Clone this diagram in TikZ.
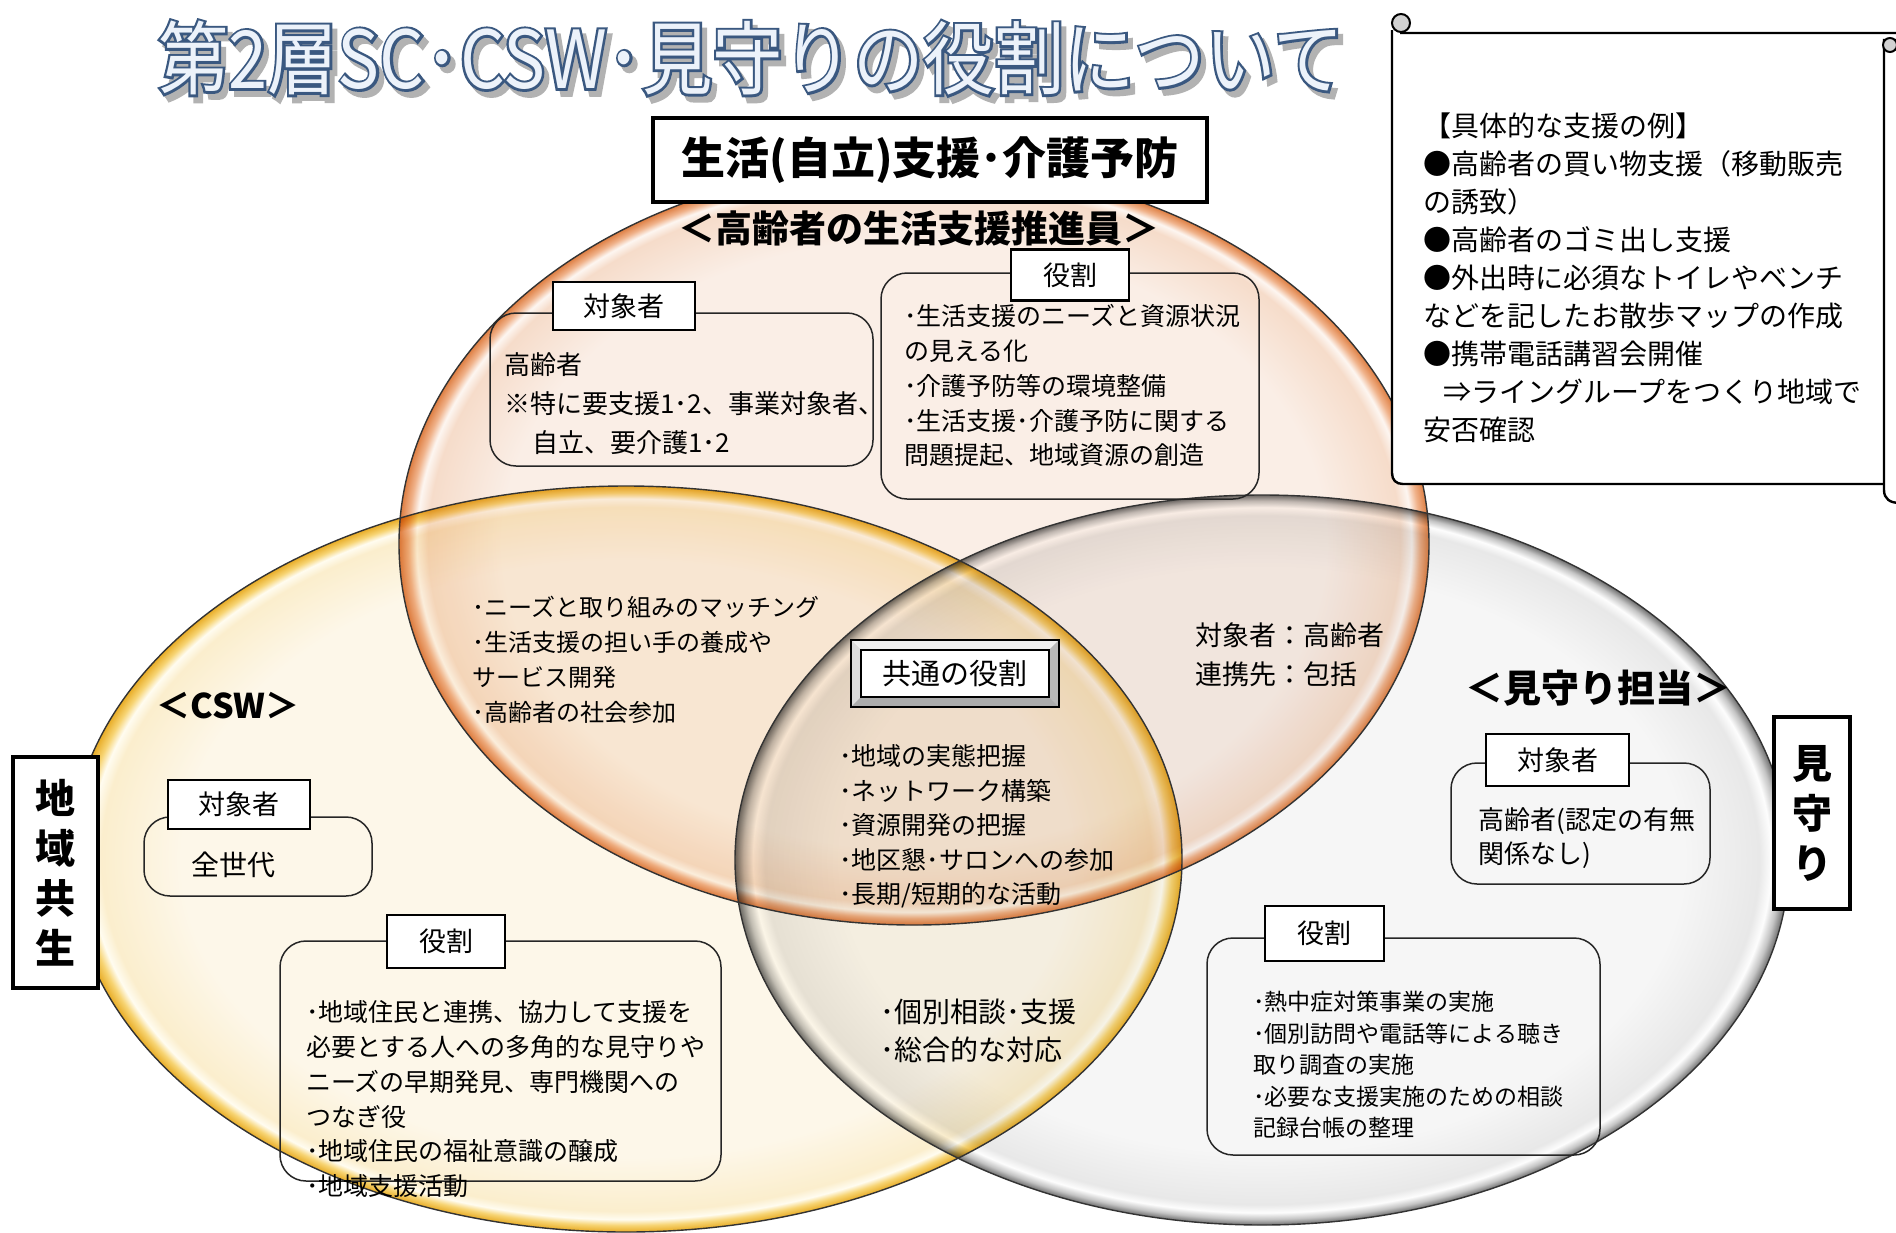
\documentclass[tikz,border=0pt]{standalone}
\usepackage{fontspec}
\newfontfamily\jp{Noto Sans CJK JP}
\newfontfamily\jpc{Noto Sans CJK JP}[FakeStretch=0.88]
\newfontfamily\jpo{Noto Sans CJK JP}[FakeStretch=0.88,FakeBold=6]
\definecolor{yin}{RGB}{253,247,233}
\definecolor{ylt}{RGB}{251,238,205}
\definecolor{yhi}{RGB}{255,252,240}
\definecolor{ymid}{RGB}{247,212,115}
\definecolor{yedge}{RGB}{232,172,38}
\definecolor{oin}{RGB}{250,238,230}
\definecolor{olt}{RGB}{246,220,202}
\definecolor{ohi}{RGB}{253,246,241}
\definecolor{omid}{RGB}{240,178,138}
\definecolor{oedge}{RGB}{222,126,66}
\definecolor{gin}{RGB}{246,246,246}
\definecolor{glt}{RGB}{232,232,232}
\definecolor{ghi}{RGB}{253,253,253}
\definecolor{gmid}{RGB}{196,196,196}
\definecolor{gedge}{RGB}{110,110,110}
\definecolor{tnavy}{RGB}{58,88,128}
\definecolor{tfill}{RGB}{236,242,250}
\pgfdeclareradialshading{rimY}{\pgfpoint{0bp}{0bp}}{color(0bp)=(yin); color(20bp)=(yin); color(23.6bp)=(ylt); color(24.15bp)=(yhi); color(24.55bp)=(ymid); color(25bp)=(yedge); color(50bp)=(yedge)}
\pgfdeclareradialshading{rimO}{\pgfpoint{0bp}{0bp}}{color(0bp)=(oin); color(20bp)=(oin); color(23.6bp)=(olt); color(24.15bp)=(ohi); color(24.55bp)=(omid); color(25bp)=(oedge); color(50bp)=(oedge)}
\pgfdeclareradialshading{rimG}{\pgfpoint{0bp}{0bp}}{color(0bp)=(gin); color(20bp)=(gin); color(23.6bp)=(glt); color(24.15bp)=(ghi); color(24.6bp)=(gmid); color(25bp)=(gedge); color(50bp)=(gedge)}
\newcommand{\ttltext}{第2層SC･CSW･見守りの役割について}
\begin{document}
\begin{tikzpicture}[x=1pt,y=-1pt,
  lbl/.style={draw=black,line width=2.2pt,fill=white,inner sep=0pt,font=\jp\fontsize{27}{30}\selectfont},
  cont/.style={draw=black!85,line width=1.5pt,rounded corners=26pt},
  txt/.style={inner sep=0pt,anchor=north west,align=left},
  vlab/.style={draw=black,line width=3.5pt,fill=white,inner sep=0pt,align=center,font=\jp\bfseries\fontsize{40}{50}\selectfont},
  ell/.style={draw=black!80,line width=1.4pt},
  ttl/.style={inner sep=0pt,font=\jpc\fontsize{80}{80}\selectfont},
  ttlo/.style={inner sep=0pt,font=\jpo\fontsize{80}{80}\selectfont},
  scl/.style={draw=black,line width=2.4pt},
]
\useasboundingbox (0,0) rectangle (1896,1232);
\fill[white] (0,0) rectangle (1896,1232);
\clip (0,0) rectangle (1896,1232);

% ---------- ellipses ----------
\shade[shading=rimY,blend mode=multiply] (626,859) ellipse [x radius=556,y radius=373];
\shade[shading=rimO,blend mode=multiply] (914,544) ellipse [x radius=515,y radius=381];
\shade[shading=rimG,blend mode=multiply] (1262,860) ellipse [x radius=527,y radius=365];
\draw[ell] (626,859) ellipse [x radius=556,y radius=373];
\draw[ell] (914,544) ellipse [x radius=515,y radius=381];
\draw[ell] (1262,860) ellipse [x radius=527,y radius=365];

% ---------- scroll ----------
\filldraw[scl,fill=white] (1392,30) -- (1392,473) .. controls (1392,480) and (1396,484) .. (1403,484) -- (1900,484) -- (1900,33) -- (1400,33);
\filldraw[scl,fill=white] (1900,40) -- (1884,40) -- (1884,490) .. controls (1884,499) and (1890,503) .. (1900,503);
\filldraw[scl,fill=gray!35,line width=2pt] (1401,23) circle [radius=9];
\filldraw[scl,fill=gray!35,line width=2pt] (1890,45) circle [radius=7];
\node[txt,font=\jp\fontsize{28}{37.9}\selectfont] (scrolltext) at (1423,113) {【具体的な支援の例】\\●高齢者の買い物支援（移動販売\\の誘致）\\●高齢者のゴミ出し支援\\●外出時に必須なトイレやベンチ\\などを記したお散歩マップの作成\\●携帯電話講習会開催\\\hspace*{20pt}⇒ライングループをつくり地域で\\安否確認};

% ---------- title ----------
\node[ttlo,text=black!30] (tshadow) at (756,64) {\ttltext};
\node[ttlo,text=tnavy] (toutline) at (751,58) {\ttltext};
\node[ttl,text=tfill] (title) at (751,58) {\ttltext};

% ---------- top box ----------
\node[draw=black,line width=3.5pt,fill=white,minimum width=554,minimum height=84,inner sep=0pt,font=\jp\bfseries\fontsize{44}{46}\selectfont] (seikatsu) at (930,160) {生活(自立)支援･介護予防};
\node[inner sep=0pt,font=\jp\bfseries\fontsize{37}{40}\selectfont] (suishin) at (919,228) {＜高齢者の生活支援推進員＞};

% orange: target
\draw[cont] (490,313) rectangle (873,466);
\node[lbl,minimum width=142,minimum height=48] (otaisho) at (624,306) {対象者};
\node[txt,font=\jp\fontsize{26}{39}\selectfont] (otext) at (504,352) {高齢者\\※特に要支援1･2、事業対象者、\\\hspace*{28pt}自立、要介護1･2};

% orange: role
\draw[cont] (881,273) rectangle (1259,499);
\node[lbl,minimum width=118,minimum height=51] (oyaku) at (1070,275) {役割};
\node[txt,font=\jp\fontsize{25}{34.75}\selectfont] (oyakutext) at (904,304.5) {･生活支援のニーズと資源状況\\の見える化\\･介護予防等の環境整備\\･生活支援･介護予防に関する\\問題提起、地域資源の創造};

% orange & yellow
\node[txt,font=\jp\fontsize{24}{35}\selectfont] (oytext) at (472,596) {･ニーズと取り組みのマッチング\\･生活支援の担い手の養成や\\サービス開発\\･高齢者の社会参加};

% common role box
\filldraw[draw=black,line width=2pt,fill=gray!45] (851,640) rectangle (1059,707);
\fill[gray!12] (851,640) -- (1059,640) -- (1049,650) -- (861,650) -- cycle;
\fill[gray!28] (851,640) -- (861,650) -- (861,697) -- (851,707) -- cycle;
\fill[gray!65] (851,707) -- (861,697) -- (1049,697) -- (1059,707) -- cycle;
\fill[gray!55] (1059,640) -- (1049,650) -- (1049,697) -- (1059,707) -- cycle;
\draw[black,line width=2pt] (851,640) rectangle (1059,707);
\node[draw=black,line width=1.2pt,fill=white,minimum width=188,minimum height=47,inner sep=0pt,font=\jp\fontsize{29}{30}\selectfont] (kyotsu) at (955,673.5) {共通の役割};
\node[txt,font=\jp\fontsize{25}{34.5}\selectfont] (ctext) at (839,744.5) {･地域の実態把握\\･ネットワーク構築\\･資源開発の把握\\･地区懇･サロンへの参加\\･長期/短期的な活動};

% orange & gray
\node[txt,font=\jp\fontsize{27}{39}\selectfont] (ogtext) at (1195,622.5) {対象者：高齢者\\連携先：包括};

% ---------- CSW ----------
\node[inner sep=0pt,font=\jp\bfseries\fontsize{34}{36}\selectfont] (csw) at (228,706) {＜CSW＞};
\node[vlab,minimum width=85,minimum height=231] (chiiki) at (55.5,872.5) {地\\域\\共\\生};
\draw[cont] (144,817) rectangle (372,896);
\node[lbl,minimum width=142,minimum height=49] (ytaisho) at (239,804.5) {対象者};
\node[txt,font=\jp\fontsize{28}{34}\selectfont] (ytext) at (191,852) {全世代};
\draw[cont] (280,941) rectangle (721,1181);
\node[lbl,minimum width=118,minimum height=53] (yyaku) at (446,941.5) {役割};
\node[txt,font=\jp\fontsize{25}{34.8}\selectfont] (yyakutext) at (306,1000.5) {･地域住民と連携、協力して支援を\\必要とする人への多角的な見守りや\\ニーズの早期発見、専門機関への\\つなぎ役\\･地域住民の福祉意識の醸成\\･地域支援活動};

% yellow & gray
\node[txt,font=\jp\fontsize{28}{38}\selectfont] (ygtext) at (880,999) {･個別相談･支援\\･総合的な対応};

% ---------- watch ----------
\node[inner sep=0pt,font=\jp\bfseries\fontsize{38}{40}\selectfont] (mimamori) at (1598,688) {＜見守り担当＞};
\node[vlab,minimum width=76,minimum height=192] (mibox) at (1812,813) {見\\守\\り};
\draw[cont] (1451,763) rectangle (1710,884);
\node[lbl,minimum width=143,minimum height=52] (gtaisho) at (1557.5,760) {対象者};
\node[txt,font=\jp\fontsize{26}{34}\selectfont] (gtext) at (1478,807) {高齢者(認定の有無\\関係なし)};
\draw[cont] (1207,938) rectangle (1600,1155);
\node[lbl,minimum width=119,minimum height=55] (gyaku) at (1324.5,933.5) {役割};
\node[txt,font=\jp\fontsize{23}{31.5}\selectfont] (gyakutext) at (1253,991) {･熱中症対策事業の実施\\･個別訪問や電話等による聴き\\取り調査の実施\\･必要な支援実施のための相談\\記録台帳の整理};
\end{tikzpicture}
\end{document}
